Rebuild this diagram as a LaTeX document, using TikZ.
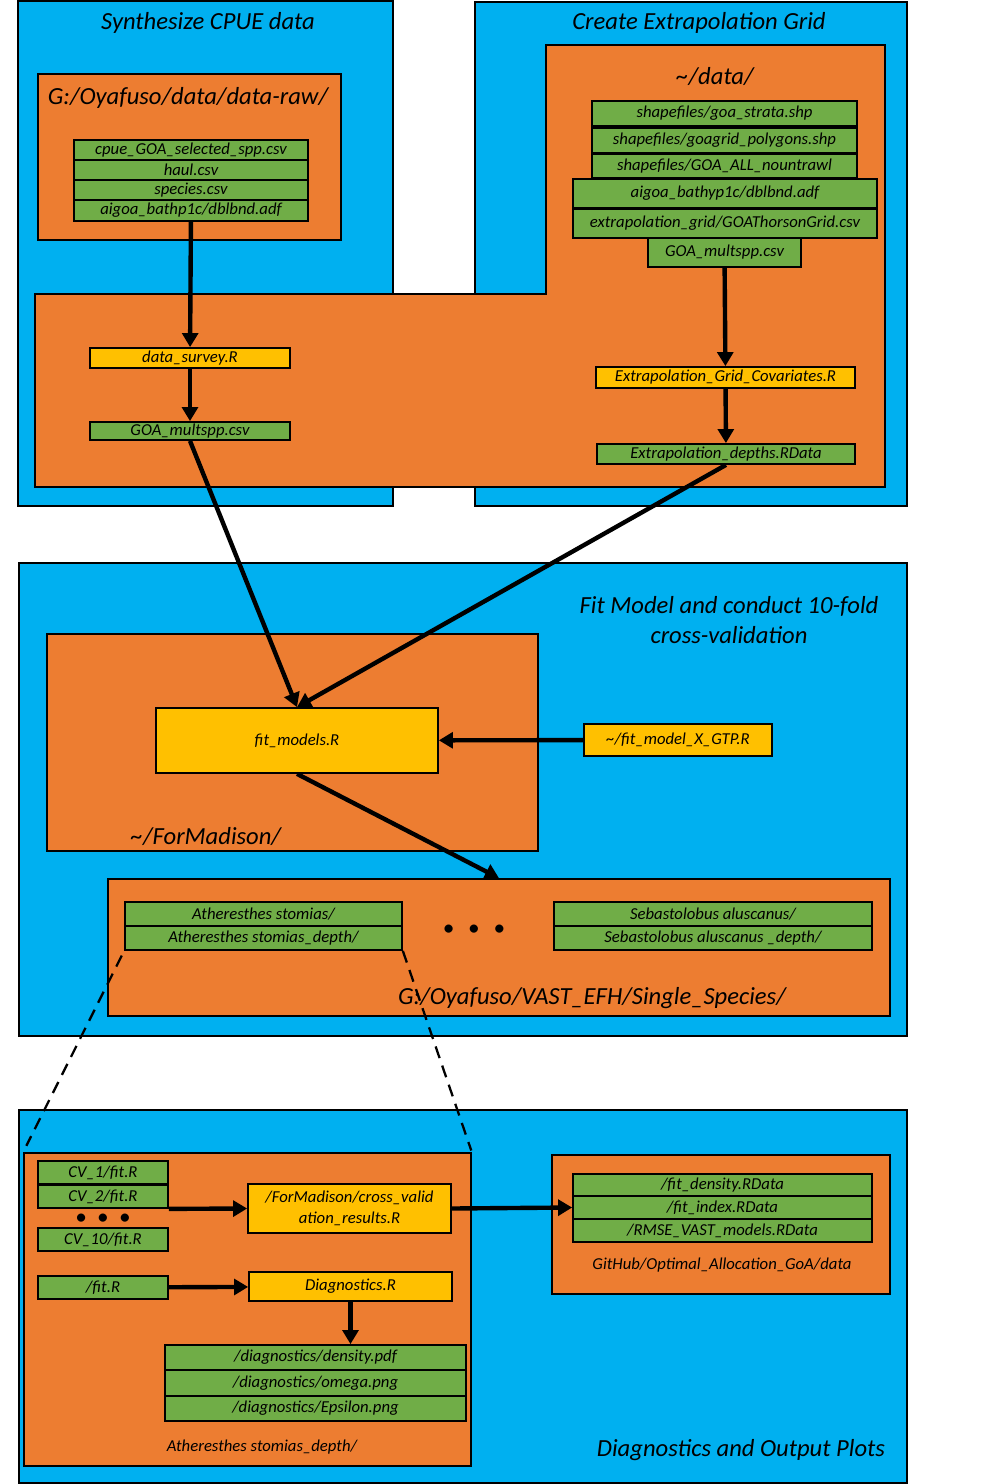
\documentclass[tikz,border=0pt]{standalone}
\usepackage{fontspec}
\setmainfont{Carlito}
\usepackage{tikz}
\usetikzlibrary{arrows.meta}
\definecolor{panelblue}{HTML}{00B0F0}
\definecolor{boxorange}{HTML}{ED7D31}
\definecolor{filegreen}{HTML}{70AD47}
\definecolor{scriptyellow}{HTML}{FFC000}
\tikzstyle{arrow} = [line width=2.5pt,->,>={Triangle[length=8pt,width=9pt]}]
\tikzstyle{link} = [line width=1.3pt,dash pattern=on 7pt off 4.5pt]

\begin{document}
\begin{tikzpicture}[x=0.02cm, y=-0.02cm,
    every node/.style={draw=black, line width=1pt, inner sep=0pt, font=\itshape\fontsize{9.5}{12}\selectfont},
    panel/.style={fill=panelblue}, folder/.style={fill=boxorange},
    file/.style={fill=filegreen}, script/.style={fill=scriptyellow},
    txt/.style={draw=none}, big/.style={font=\itshape\fontsize{14}{17}\selectfont},
    dots/.style={draw=none, font=\bfseries\fontsize{11}{11}\selectfont}]
        \useasboundingbox (0,0) rectangle (1005,1484);

        % Top panels
        \node[panel, minimum width=7.5cm, minimum height=10.1cm] (synth) at (205.5,253.5) {};
        \node[panel, minimum width=8.64cm, minimum height=10.08cm] (grid) at (691,254) {};
        \node[txt, big] (synthT) at (208,23) {Synthesize CPUE data};
        \node[txt, big] (gridT) at (699,23) {Create Extrapolation Grid};

        \draw[line width=1pt, fill=boxorange] (35,294) -- (546,294) -- (546,45) -- (885,45) -- (885,487) -- (35,487) -- cycle;

        \node[folder, minimum width=6.06cm, minimum height=3.32cm] (raw) at (189.5,157) {};
        \node[txt, big] (rawT) at (188,98) {G:/Oyafuso/data/data-raw/};
        \node[file, minimum width=4.68cm, minimum height=0.4cm] (raw1) at (191,150) {cpue\_GOA\_selected\_spp.csv};
        \node[file, minimum width=4.68cm, minimum height=0.4cm] (raw2) at (191,170) {haul.csv};
        \node[file, minimum width=4.68cm, minimum height=0.4cm] (raw3) at (191,190) {species.csv};
        \node[file, minimum width=4.68cm, minimum height=0.42cm] (raw4) at (191,210.5) {aigoa\_bathp1c/dblbnd.adf};
        \node[script, minimum width=4cm, minimum height=0.4cm] (survey) at (190,358) {data\_survey.R};
        \node[file, minimum width=4cm, minimum height=0.36cm] (multA) at (190,431) {GOA\_multspp.csv};

        \node[txt, big] (dataT) at (715,76) {\textasciitilde/data/};
        \node[file, minimum width=5.3cm, minimum height=0.5cm] (shp1) at (724.5,113.5) {shapefiles/goa\_strata.shp};
        \node[file, minimum width=5.3cm, minimum height=0.5cm] (shp2) at (724.5,140.5) {shapefiles/goagrid\_polygons.shp};
        \node[file, minimum width=5.3cm, minimum height=0.48cm] (shp3) at (724.5,166) {shapefiles/GOA\_ALL\_nountrawl};
        \node[file, minimum width=6.08cm, minimum height=0.58cm] (bathy) at (725,193.5) {aigoa\_bathyp1c/dblbnd.adf};
        \node[file, minimum width=6.08cm, minimum height=0.58cm] (thorson) at (725,223.5) {extrapolation\_grid/GOAThorsonGrid.csv};
        \node[file, minimum width=3.06cm, minimum height=0.58cm] (multB) at (724.5,252.5) {GOA\_multspp.csv};
        \node[script, minimum width=5.18cm, minimum height=0.42cm] (cov) at (725.5,377.5) {Extrapolation\_Grid\_Covariates.R};
        \node[file, minimum width=5.16cm, minimum height=0.4cm] (depths) at (726,454) {Extrapolation\_depths.RData};

        % Model fitting
        \node[panel, minimum width=17.76cm, minimum height=9.46cm] (fitP) at (463,799.5) {};
        \node[txt, big, align=center] (fitT) at (729,620) {Fit Model and conduct 10-fold\\cross-validation};
        \node[folder, minimum width=9.82cm, minimum height=4.34cm] (madison) at (292.5,742.5) {};
        \node[txt, big] (madisonT) at (206,836) {\textasciitilde/ForMadison/};
        \node[script, minimum width=5.64cm, minimum height=1.3cm] (fit) at (297,740.5) {fit\_models.R};
        \node[script, minimum width=3.76cm, minimum height=0.64cm] (gtp) at (678,740) {\textasciitilde/fit\_model\_X\_GTP.R};
        \node[folder, minimum width=15.64cm, minimum height=2.74cm] (single) at (499,947.5) {};
        \node[txt, big] (singleT) at (592,998) {G:/Oyafuso/VAST\_EFH/Single\_Species/};
        \node[file, minimum width=5.54cm, minimum height=0.48cm] (ath1) at (263.5,914) {Atheresthes stomias/};
        \node[file, minimum width=5.54cm, minimum height=0.48cm] (ath2) at (263.5,938) {Atheresthes stomias\_depth/};
        \node[dots] (spdots) at (474,930) {\textbullet\hspace{9pt}\textbullet\hspace{9pt}\textbullet};
        \node[file, minimum width=6.36cm, minimum height=0.48cm] (seb1) at (713,914) {Sebastolobus aluscanus/};
        \node[file, minimum width=6.36cm, minimum height=0.48cm] (seb2) at (713,938) {Sebastolobus aluscanus \_depth/};

        % Diagnostics
        \node[panel, minimum width=17.76cm, minimum height=7.46cm] (diagP) at (463,1296.5) {};
        \node[txt, big] (diagT) at (741,1450) {Diagnostics and Output Plots};
        \node[folder, minimum width=8.94cm, minimum height=6.26cm] (depth) at (247.5,1309.5) {};
        \node[txt] (depthT) at (262,1447) {Atheresthes stomias\_depth/};
        \node[file, minimum width=2.6cm, minimum height=0.46cm] (cv1) at (103,1172.5) {CV\_1/fit.R};
        \node[file, minimum width=2.6cm, minimum height=0.46cm] (cv2) at (103,1196.5) {CV\_2/fit.R};
        \node[dots] (cvdots) at (103,1219) {\textbullet\hspace{7pt}\textbullet\hspace{7pt}\textbullet};
        \node[file, minimum width=2.6cm, minimum height=0.46cm] (cv10) at (103,1239.5) {CV\_10/fit.R};
        \node[script, minimum width=4.06cm, minimum height=0.98cm, align=center] (cross) at (349.5,1208.5) {/ForMadison/cross\_valid\\ation\_results.R};
        \node[file, minimum width=2.6cm, minimum height=0.46cm] (fitR) at (103,1287.5) {/fit.R};
        \node[script, minimum width=4.06cm, minimum height=0.58cm] (diag) at (350.5,1286.5) {Diagnostics.R};
        \node[file, minimum width=6.02cm, minimum height=0.5cm] (dg1) at (315.5,1357.5) {/diagnostics/density.pdf};
        \node[file, minimum width=6.02cm, minimum height=0.52cm] (dg2) at (315.5,1383) {/diagnostics/omega.png};
        \node[file, minimum width=6.02cm, minimum height=0.5cm] (dg3) at (315.5,1408.5) {/diagnostics/Epsilon.png};
        \node[folder, minimum width=6.76cm, minimum height=2.78cm] (github) at (721,1224.5) {};
        \node[txt] (githubT) at (722,1265) {GitHub/Optimal\_Allocation\_GoA/data};
        \node[file, minimum width=5.98cm, minimum height=0.44cm] (out1) at (722.5,1185) {/fit\_density.RData};
        \node[file, minimum width=5.98cm, minimum height=0.46cm] (out2) at (722.5,1207.5) {/fit\_index.RData};
        \node[file, minimum width=5.98cm, minimum height=0.46cm] (out3) at (722.5,1230.5) {/RMSE\_VAST\_models.RData};

        % Arrows
        \draw[arrow] (raw4) -- (survey);
        \draw[arrow] (survey) -- (multA);
        \draw[arrow] (multA.south) -- (fit.north);
        \draw[arrow] (multB) -- (cov);
        \draw[arrow] (cov) -- (depths);
        \draw[arrow] (depths.south) -- (fit.north);
        \draw[arrow] (gtp) -- (fit);
        \draw[arrow] (fit.south) -- (single.north);
        \draw[arrow] (cv2.south east) -- (cross.west);
        \draw[arrow] (cross.east) -- (out2.west);
        \draw[arrow] (fitR) -- (diag);
        \draw[arrow] (diag.south) -- (diag.south |- dg1.north);
        \draw[link, shorten <=3pt, shorten >=4pt] (ath2.south west) -- (depth.north west);
        \draw[link, shorten >=1pt] (ath2.south east) -- (depth.north east);
      \end{tikzpicture}
\end{document}
